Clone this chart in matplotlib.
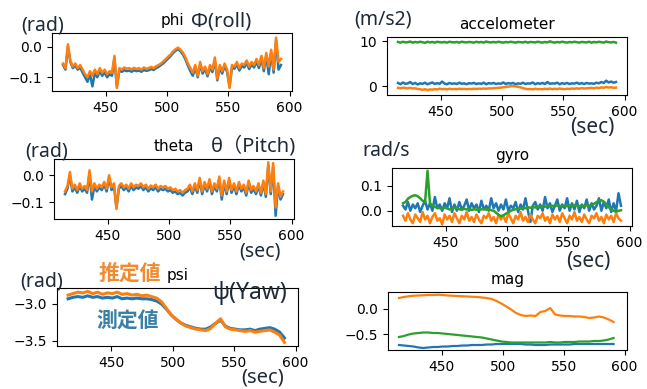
import numpy as np
import matplotlib.pyplot as plt

# sample times (sec)
t_fast = np.arange(415, 594, 2)
t_slow = t_fast[::2]

phi_meas = [-0.06, -0.075, 0.0, -0.05, -0.07, -0.062, -0.075, -0.068, -0.085, -0.1,
            -0.115, -0.09, -0.13, -0.085, -0.1, -0.08, -0.095, -0.085, -0.1, -0.09,
            -0.095, -0.04, -0.13, -0.078, -0.082, -0.077, -0.08, -0.078, -0.082, -0.077,
            -0.08, -0.078, -0.082, -0.076, -0.079, -0.077, -0.073, -0.076, -0.07, -0.066,
            -0.06, -0.054, -0.046, -0.038, -0.03, -0.02, -0.013, -0.008, -0.015, -0.026,
            -0.042, -0.062, -0.08, -0.095, -0.068, -0.1, -0.058, -0.088, -0.072, -0.097,
            -0.068, -0.083, -0.045, -0.11, -0.068, -0.088, -0.062, -0.083, -0.13, -0.068,
            -0.072, -0.058, -0.078, -0.063, -0.068, -0.053, -0.073, -0.058, -0.068, -0.05,
            -0.07, -0.04, -0.08, -0.03, -0.09, -0.02, -0.085, 0.02, -0.075, -0.06]
phi_est = [-0.055, -0.07, 0.008, -0.045, -0.065, -0.055, -0.07, -0.06, -0.075, -0.09,
           -0.1, -0.08, -0.095, -0.075, -0.09, -0.07, -0.085, -0.075, -0.09, -0.08,
           -0.085, -0.03, -0.135, -0.07, -0.075, -0.068, -0.072, -0.07, -0.074, -0.069,
           -0.073, -0.07, -0.075, -0.068, -0.072, -0.07, -0.066, -0.07, -0.064, -0.06,
           -0.055, -0.048, -0.04, -0.032, -0.025, -0.015, -0.008, -0.003, -0.01, -0.02,
           -0.035, -0.055, -0.07, -0.085, -0.06, -0.095, -0.05, -0.08, -0.065, -0.09,
           -0.06, -0.075, -0.035, -0.105, -0.06, -0.08, -0.055, -0.075, -0.135, -0.06,
           -0.065, -0.05, -0.07, -0.055, -0.06, -0.045, -0.065, -0.05, -0.06, -0.04,
           -0.06, -0.03, -0.07, -0.02, -0.065, -0.01, -0.075, 0.03, -0.05, -0.04]

theta_meas = [-0.07, -0.05, 0.0, -0.06, -0.045, -0.065, -0.04, -0.06, -0.05, -0.065,
              0.005, -0.09, -0.04, -0.06, -0.045, -0.055, -0.035, -0.06, -0.01, -0.055,
              -0.04, -0.12, -0.05, -0.04, -0.055, -0.045, -0.06, -0.04, -0.055, -0.045,
              -0.05, -0.04, -0.055, -0.045, -0.06, -0.048, -0.055, -0.045, -0.06, -0.05,
              -0.055, -0.05, -0.06, -0.055, -0.065, -0.06, -0.07, -0.065, -0.075, -0.065,
              -0.06, -0.045, -0.07, -0.04, -0.065, -0.02, -0.07, -0.035, -0.06, -0.025,
              -0.07, -0.04, -0.06, -0.015, -0.09, -0.03, -0.07, -0.02, -0.065, -0.04,
              -0.07, -0.035, -0.06, -0.045, -0.075, -0.03, -0.065, -0.05, -0.07, -0.04,
              -0.075, -0.03, -0.08, 0.035, -0.07, 0.03, -0.15, -0.04, -0.09, -0.07]
theta_est = [-0.06, -0.04, 0.012, -0.05, -0.035, -0.055, -0.03, -0.05, -0.04, -0.055,
             0.018, -0.06, -0.03, -0.05, -0.035, -0.045, -0.025, -0.05, 0.0, -0.045,
             -0.03, -0.125, -0.04, -0.03, -0.045, -0.035, -0.05, -0.03, -0.045, -0.035,
             -0.04, -0.03, -0.045, -0.035, -0.05, -0.038, -0.045, -0.035, -0.05, -0.04,
             -0.045, -0.04, -0.05, -0.045, -0.055, -0.05, -0.06, -0.055, -0.065, -0.055,
             -0.05, -0.035, -0.06, -0.03, -0.055, -0.01, -0.06, -0.025, -0.05, -0.015,
             -0.06, -0.03, -0.05, -0.005, -0.075, -0.02, -0.06, -0.01, -0.055, -0.03,
             -0.06, -0.025, -0.05, -0.035, -0.065, -0.02, -0.055, -0.04, -0.06, -0.03,
             -0.065, -0.02, -0.07, 0.048, -0.06, 0.045, -0.12, -0.03, -0.08, -0.06]

psi_meas = [-2.93, -2.91, -2.9, -2.91, -2.89, -2.91, -2.9, -2.92, -2.91, -2.92,
            -2.9, -2.93, -2.92, -2.93, -2.92, -2.93, -2.93, -2.94, -2.96, -3.0,
            -3.07, -3.15, -3.21, -3.26, -3.29, -3.31, -3.33, -3.34, -3.34, -3.31,
            -3.26, -3.22, -3.3, -3.33, -3.34, -3.35, -3.35, -3.34, -3.36, -3.34,
            -3.33, -3.32, -3.34, -3.38, -3.46]
psi_est = [-2.88, -2.86, -2.84, -2.85, -2.83, -2.86, -2.84, -2.87, -2.85, -2.86,
           -2.84, -2.87, -2.86, -2.88, -2.87, -2.89, -2.88, -2.9, -2.92, -2.97,
           -3.06, -3.15, -3.21, -3.26, -3.3, -3.32, -3.34, -3.35, -3.36, -3.33,
           -3.26, -3.2, -3.31, -3.34, -3.35, -3.36, -3.37, -3.36, -3.38, -3.37,
           -3.36, -3.35, -3.38, -3.42, -3.52]

acc_x = [0.7, 0.4, 0.8, 0.5, 0.6, 0.9, 0.45, 0.7, 0.35, 0.6,
         0.5, 0.75, 0.4, 0.6, 0.8, 0.45, 0.65, 0.5, 1.0, 0.55,
         0.4, 0.7, 0.5, 0.6, 0.45, 0.75, 0.5, 0.6, 0.4, 0.65,
         0.55, 0.7, 0.45, 0.6, 0.5, 0.75, 0.4, 0.65, 0.55, 0.7,
         0.45, 0.6, 0.5, 0.8, 0.45, 0.65, 0.55, 0.7, 0.4, 0.6,
         0.5, 0.75, 0.45, 0.6, 0.55, 0.8, 0.4, 0.65, 0.5, 0.7,
         0.45, 0.9, 0.5, 0.6, 0.55, 0.75, 0.4, 0.65, 0.5, 0.7,
         0.45, 0.6, 0.55, 0.75, 0.5, 0.65, 0.45, 0.7, 0.55, 0.6,
         0.5, 0.75, 0.6, 0.9, 0.7, 1.2, 0.8, 1.0, 0.75, 0.9]
acc_y = [-0.4, -0.5, -0.35, -0.45, -0.5, -0.4, -0.55, -0.5, -0.65, -0.7,
         -0.85, -0.7, -0.9, -0.75, -0.8, -0.7, -0.75, -0.6, -0.7, -0.65,
         -0.75, -0.6, -0.7, -0.65, -0.7, -0.6, -0.68, -0.62, -0.7, -0.65,
         -0.68, -0.6, -0.65, -0.58, -0.62, -0.55, -0.6, -0.52, -0.55, -0.48,
         -0.45, -0.4, -0.35, -0.28, -0.2, -0.12, -0.05, 0.0, -0.08, -0.15,
         -0.3, -0.45, -0.6, -0.7, -0.65, -0.75, -0.6, -0.7, -0.65, -0.72,
         -0.6, -0.7, -0.55, -0.7, -0.6, -0.68, -0.55, -0.65, -0.7, -0.6,
         -0.65, -0.55, -0.62, -0.5, -0.6, -0.45, -0.55, -0.5, -0.45, -0.4,
         -0.5, -0.35, -0.45, -0.3, -0.4, -0.2, -0.35, -0.25, -0.4, -0.35]
acc_z = [9.85, 9.7, 9.9, 9.75, 9.8, 9.95, 9.7, 9.85, 9.75, 9.9,
         9.8, 9.65, 9.9, 9.75, 9.85, 9.7, 9.9, 9.8, 9.75, 9.85,
         9.7, 9.9, 9.8, 9.75, 9.85, 9.7, 9.9, 9.8, 9.75, 9.85,
         9.8, 9.7, 9.9, 9.75, 9.85, 9.7, 9.95, 9.8, 9.75, 9.85,
         9.75, 9.9, 9.8, 9.7, 9.85, 9.75, 9.9, 9.8, 9.7, 9.85,
         9.8, 9.75, 9.9, 9.7, 9.85, 9.8, 9.75, 9.9, 9.8, 9.7,
         9.85, 9.75, 10.0, 9.8, 9.7, 9.85, 9.75, 9.9, 9.8, 9.7,
         9.85, 9.75, 9.9, 9.8, 9.7, 9.85, 9.8, 9.75, 9.9, 9.7,
         9.85, 9.75, 9.9, 9.8, 9.7, 9.95, 9.8, 9.75, 9.85, 9.7]

gyro_x = [0.02, 0.005, 0.035, 0.0, 0.025, 0.01, 0.03, -0.005, 0.02, 0.04,
          0.005, 0.03, 0.0, 0.055, 0.01, 0.025, 0.0, 0.03, 0.01, 0.05,
          -0.005, 0.025, 0.0, 0.035, 0.005, 0.02, 0.045, 0.0, 0.03, 0.01,
          0.025, -0.005, 0.04, 0.005, 0.02, 0.0, 0.05, 0.01, 0.03, 0.0,
          0.025, 0.005, 0.045, 0.0, 0.02, 0.01, 0.035, -0.005, 0.025, 0.005,
          0.05, 0.0, -0.045, 0.02, 0.035, 0.005, 0.025, 0.0, 0.055, 0.01,
          0.03, -0.005, 0.02, 0.045, 0.0, 0.025, 0.01, 0.05, 0.0, 0.03,
          0.005, 0.04, -0.005, 0.025, 0.01, 0.045, 0.0, 0.03, 0.005, 0.02,
          0.05, 0.0, 0.035, 0.01, 0.045, -0.005, 0.03, 0.0, 0.07, 0.02]
gyro_y = [-0.02, -0.04, -0.01, -0.035, -0.05, -0.015, -0.03, -0.045, -0.005, -0.035,
          -0.02, -0.05, -0.025, -0.01, -0.04, -0.03, -0.055, -0.015, -0.035, -0.02,
          -0.045, -0.01, -0.03, -0.05, -0.02, -0.035, -0.005, -0.04, -0.025, -0.045,
          -0.015, -0.035, -0.05, -0.02, -0.03, -0.01, -0.04, -0.025, -0.05, -0.015,
          -0.035, -0.02, -0.045, -0.01, -0.03, -0.05, -0.02, -0.035, -0.005, -0.04,
          -0.025, -0.045, -0.015, -0.035, -0.05, -0.02, -0.03, -0.01, -0.04, -0.025,
          -0.05, -0.015, -0.035, -0.02, -0.045, -0.01, -0.03, -0.05, -0.02, -0.035,
          -0.005, -0.04, -0.025, -0.045, -0.015, -0.035, -0.05, -0.02, -0.03, -0.01,
          -0.04, -0.025, -0.05, -0.015, -0.035, -0.02, -0.045, -0.01, -0.03, -0.04]
gyro_z = [0.03, 0.035, 0.048, 0.055, 0.06, 0.062, 0.058, 0.05, 0.04, 0.035,
          0.16, 0.03, 0.02, 0.015, 0.012, 0.01, 0.008, 0.012, 0.01, 0.005,
          0.008, 0.012, 0.01, 0.006, 0.004, 0.008, 0.005, 0.007, 0.003, 0.006,
          0.004, 0.007, 0.005, 0.008, 0.004, 0.006, 0.002, 0.0, -0.008, -0.016,
          -0.022, -0.018, -0.012, -0.006, 0.0, 0.004, 0.006, 0.01, 0.008, 0.012,
          0.01, 0.014, 0.012, 0.015, 0.013, 0.016, 0.014, 0.018, 0.016, 0.02,
          0.017, 0.02, 0.018, 0.021, 0.019, 0.017, 0.02, 0.018, 0.021, 0.019,
          0.022, 0.02, 0.018, 0.021, 0.019, 0.022, 0.02, 0.024, 0.028, 0.034,
          0.04, 0.042, 0.036, 0.026, 0.014, 0.006, 0.0, -0.004, 0.0, 0.002]

mag_x = [-0.72, -0.73, -0.74, -0.75, -0.77, -0.78, -0.77, -0.76, -0.76, -0.75,
         -0.75, -0.74, -0.74, -0.73, -0.73, -0.72, -0.72, -0.72, -0.71, -0.71,
         -0.7, -0.7, -0.7, -0.7, -0.7, -0.7, -0.71, -0.71, -0.72, -0.72,
         -0.72, -0.71, -0.71, -0.71, -0.71, -0.71, -0.7, -0.7, -0.7, -0.7,
         -0.7, -0.7, -0.7, -0.7, -0.7]
mag_y = [0.22, 0.24, 0.255, 0.265, 0.27, 0.275, 0.28, 0.28, 0.285, 0.28,
         0.27, 0.265, 0.26, 0.255, 0.25, 0.245, 0.24, 0.23, 0.22, 0.2,
         0.16, 0.11, 0.05, -0.01, -0.08, -0.12, -0.14, -0.13, -0.14, -0.06,
         -0.04, 0.02, -0.11, -0.13, -0.14, -0.14, -0.15, -0.15, -0.16, -0.18,
         -0.17, -0.15, -0.17, -0.21, -0.26]
mag_z = [-0.56, -0.54, -0.51, -0.49, -0.48, -0.47, -0.47, -0.48, -0.48, -0.49,
         -0.5, -0.51, -0.52, -0.53, -0.54, -0.55, -0.56, -0.57, -0.59, -0.61,
         -0.63, -0.65, -0.66, -0.67, -0.67, -0.67, -0.67, -0.67, -0.67, -0.67,
         -0.67, -0.66, -0.67, -0.67, -0.66, -0.66, -0.66, -0.65, -0.65, -0.65,
         -0.64, -0.64, -0.63, -0.61, -0.58]

W, H = 647, 389
BLUE, ORANGE, GREEN = '#1f77b4', '#ff7f0e', '#2ca02c'
NOTE = '#1e2a38'
JP = ['Noto Sans', 'Noto Sans CJK JP', 'DejaVu Sans']


def box(l, t, r, b):
    return [l / W, 1 - b / H, (r - l) / W, (b - t) / H]


def note(x, y, s, size=14, color=NOTE, weight='normal'):
    fig.text(x / W, 1 - y / H, s, ha='center', va='center', fontsize=size,
             color=color, family=JP, fontweight=weight)


fig = plt.figure(figsize=(W / 100, H / 100), dpi=100)

panels = [
    ('phi', box(52, 33, 292, 91), [(t_fast, phi_meas, BLUE, 1.8), (t_fast, phi_est, ORANGE, 1.8)],
     (-0.145, 0.045), [-0.1, 0.0]),
    ('accelometer', box(387, 37, 627, 95),
     [(t_fast, acc_x, BLUE, 1.8), (t_fast, acc_y, ORANGE, 1.8), (t_fast, acc_z, GREEN, 1.8)],
     (-2.0, 10.96), [0, 10]),
    ('theta', box(54, 159, 294, 219), [(t_fast, theta_meas, BLUE, 1.8), (t_fast, theta_est, ORANGE, 1.8)],
     (-0.162, 0.06), [-0.1, 0.0]),
    ('gyro', box(392, 168, 632, 226),
     [(t_fast, gyro_x, BLUE, 1.8), (t_fast, gyro_y, ORANGE, 1.8), (t_fast, gyro_z, GREEN, 1.8)],
     (-0.061, 0.171), [0.0, 0.1]),
    ('psi', box(57, 288, 298, 346), [(t_slow, psi_meas, BLUE, 2.2), (t_slow, psi_est, ORANGE, 2.2)],
     (-3.568, -2.784), [-3.5, -3.0]),
    ('mag', box(388, 292, 627, 350),
     [(t_slow, mag_x, BLUE, 1.6), (t_slow, mag_y, ORANGE, 1.6), (t_slow, mag_z, GREEN, 1.6)],
     (-0.82, 0.34), [-0.5, 0.0]),
]

for title, rect, lines, ylim, yticks in panels:
    ax = fig.add_axes(rect)
    for x, y, c, lw in lines:
        ax.plot(x, y, color=c, lw=lw)
    ax.set_xlim(406, 602)
    ax.set_ylim(*ylim)
    ax.set_xticks([450, 500, 550, 600])
    ax.set_yticks(yticks)
    ax.tick_params(labelsize=10)
    ax.set_title(title, fontsize=11, pad=6)

# hand-written notes on the screenshot
note(43, 26, '(rad)')
note(221, 21, 'Φ(roll)', size=14.5)
note(383, 19, '(m/s2)')
note(592, 128, '(sec)', size=15)
note(47, 152, '(rad)')
note(253, 146, 'θ（Pitch)', size=14.5)
note(260, 252, '(sec)')
note(386, 151, 'rad/s')
note(588, 261, '(sec)', size=15)
note(130, 274, '推定値', size=15, color='#f28a30', weight='bold')
note(42, 281, '(rad)')
note(250, 293, 'ψ(Yaw)', size=16.5)
note(128, 322, '測定値', size=15, color='#3a80a4', weight='bold')
note(263, 378, '(sec)', size=14.5)

fig.savefig('out.png', dpi=100)
